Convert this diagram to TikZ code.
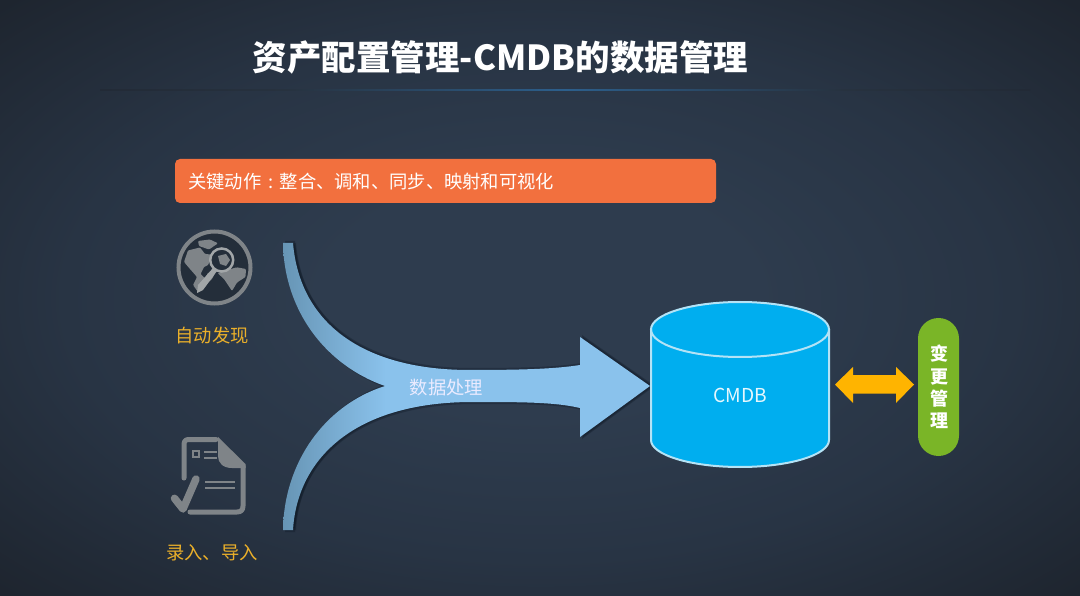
\documentclass[tikz,border=0pt]{standalone}
\usepackage{fontspec}
\newfontfamily\cjk{Noto Sans CJK SC}
\usetikzlibrary{calc}
\definecolor{bgc}{HTML}{2E3C4E}
\definecolor{bgm}{HTML}{283444}
\definecolor{bge}{HTML}{1E252F}
\definecolor{arrA}{HTML}{6795B5}
\definecolor{arrB}{HTML}{8AC2EC}
\definecolor{iconc}{HTML}{7F8488}
\definecolor{iconl}{HTML}{A2A6A8}
\definecolor{dk}{HTML}{242E3A}
\definecolor{rulec}{HTML}{2C5F8C}
\definecolor{rulea}{HTML}{222A36}
\definecolor{ruleb}{HTML}{27323F}
\definecolor{goldc}{HTML}{EBB02A}
\definecolor{bannerc}{HTML}{F2703E}
\definecolor{cylc}{HTML}{00AEEF}
\definecolor{cyledge}{HTML}{B4E3F6}
\definecolor{ambc}{HTML}{FFB400}
\definecolor{pillc}{HTML}{7AB527}
\definecolor{shadowc}{HTML}{0A1420}
\pgfdeclareradialshading{bgsh}{\pgfpoint{0bp}{0bp}}{color(0bp)=(bgc); color(10bp)=(bgc); color(22bp)=(bgm); color(35bp)=(bge); color(50bp)=(bge)}
\pgfdeclarehorizontalshading{arrsh}{100bp}{color(0bp)=(arrA); color(25bp)=(arrA); color(39bp)=(arrB); color(100bp)=(arrB)}
\pgfdeclarehorizontalshading{rulesh}{100bp}{color(0bp)=(rulea); color(25bp)=(rulea); color(35bp)=(ruleb); color(50bp)=(rulec); color(65bp)=(ruleb); color(75bp)=(rulea); color(100bp)=(rulea)}
\tikzset{
  lbl/.style={font=\cjk\fontsize{18.3}{20}\selectfont, inner sep=0pt},
  gold/.style={lbl, text=goldc},
  icl/.style={draw=iconc, line cap=round, line join=round},
  shadowpart/.style={fill=shadowc, opacity=.3},
}
\def\flowpath{(283,243) .. controls (284,310) and (325,365) .. (385,386)
  .. controls (325,405) and (284,462) .. (283,530) -- (293,530)
  .. controls (297,462) and (350,403) .. (470,402)
  .. controls (520,402) and (555,402) .. (580,408) -- (580,437) -- (650,386) -- (580,337) -- (580,365)
  .. controls (555,369) and (520,370) .. (470,370)
  .. controls (365,370) and (300,325) .. (293,243) -- cycle}
\begin{document}
\begin{tikzpicture}[x=1pt,y=-1pt]
\useasboundingbox (0,0) rectangle (1080,596);
\shade[shading=bgsh] (0,0) rectangle (1080,596);
% title
\node[inner sep=0pt,text=white,font=\cjk\bfseries\fontsize{34.5}{38}\selectfont] (title) at (500.5,57) {资产配置管理-CMDB的数据管理};
\shade[shading=rulesh] (100,89.6) rectangle (1030,90.6);
% banner
\node[fill=bannerc,rounded corners=5pt,minimum width=541pt,minimum height=44pt,inner sep=0pt] (banner) at (445.5,181) {};
\node[lbl,text=white,anchor=west] (bannertext) at (188,182) {关键动作\makebox[18.3pt]{:}整合、调和、同步、映射和可视化};
% flow arrow
\fill[shadowpart,shift={(3pt,0pt)}] \flowpath;
\fill[shadowpart,shift={(2pt,2pt)}] \flowpath;
\fill[shadowpart,shift={(2pt,-2pt)}] \flowpath;
\shade[shading=arrsh] \flowpath;
\node[lbl,text=white!92!blue] (proc) at (446.5,388) {数据处理};
% globe icon
\fill[dk] (214.5,267.5) circle (36);
\draw[iconc,line width=4pt] (214.5,267.5) circle (36);
\fill[iconc,rounded corners=1pt] (198,241) -- (210,239.5) -- (218,243.3) -- (209,249.5) -- (199,246) -- cycle;
\fill[iconc,rounded corners=1pt] (188,250.5) -- (200,247.5) -- (205,254) -- (211,254.5) -- (208.3,265) -- (204,267) -- (200.5,274) -- (205,278.3) -- (208.3,272.5) -- (216,271) -- (212,279) -- (205,285) -- (198,292) -- (193,285) -- (197,277) -- (190,269) -- (184,262) -- cycle;
\fill[iconc,rounded corners=1pt] (217.5,273) -- (236.7,267.3) -- (246,269) -- (245.5,277) -- (237,282.5) -- (232,291) -- (224,279) -- cycle;
\fill[iconc] (218,256) -- (226,254) -- (230,260) -- (226,266) -- (220,264) -- cycle;
\draw[iconl,line width=2.5pt] (221.7,260) circle (11.5);
\fill[iconl] (213,268) -- (217,271) -- (203,290) -- (197,293) -- (198,285) -- cycle;
\node[gold] (auto) at (212,335.5) {自动发现};
% document icon
\draw[icl,line width=5pt] (216,439.5) -- (189,439.5) .. controls (185.5,439.5) and (184,441) .. (184,445) -- (184,478);
\draw[icl,line width=5pt] (190,512) -- (237,512) .. controls (241,512) and (243,510) .. (243,506) -- (243,466);
\fill[iconc] (218,437) -- (245.5,464) -- (245.5,468) -- (232,468) .. controls (223,468) and (218,463) .. (218,456) -- cycle;
\draw[iconc,line width=2pt] (192.7,451) rectangle (198.7,457);
\draw[iconc,line width=2pt] (204,451.7) -- (217,451.7) (204,458.3) -- (217,458.3);
\draw[iconc,line width=2pt] (205,481.7) -- (235,481.7) (205,487.5) -- (235,487.5);
\draw[icl,line width=7.5pt] (174.5,498.3) -- (183,509) -- (196,479);
\node[gold] (manual) at (212,552.5) {录入、导入};
% cylinder
\path[fill=cylc] (651,329) arc[start angle=180,end angle=360,x radius=89,y radius=27.5] -- (829,440) arc[start angle=0,end angle=180,x radius=89,y radius=27] -- cycle;
\draw[cyledge,line width=2pt] (651,329) -- (651,440) arc[start angle=180,end angle=0,x radius=89,y radius=27] -- (829,329);
\draw[cyledge,line width=2pt] (740,329.5) ellipse[x radius=89,y radius=27.5];
\node[inner sep=0pt,text=white!90!cyan,font=\cjk\fontsize{19.2}{20}\selectfont] (cmdb) at (740.5,395.5) {CMDB};
% double arrow
\fill[ambc] (835,384.5) -- (853,367) -- (853,375) -- (896,375) -- (896,367) -- (914,384.5) -- (896,403) -- (896,393.5) -- (853,393.5) -- (853,403) -- cycle;
% change mgmt pill
\fill[pillc] (918,338.5) arc[start angle=180,end angle=360,radius=20.5] -- (959,435.5) arc[start angle=0,end angle=180,radius=20.5] -- cycle;
\node[inner sep=0pt,text=white,font=\cjk\bfseries\fontsize{18}{22.4}\selectfont,align=center] (chg) at (939.5,387) {变\\更\\管\\理};
\end{tikzpicture}
\end{document}
